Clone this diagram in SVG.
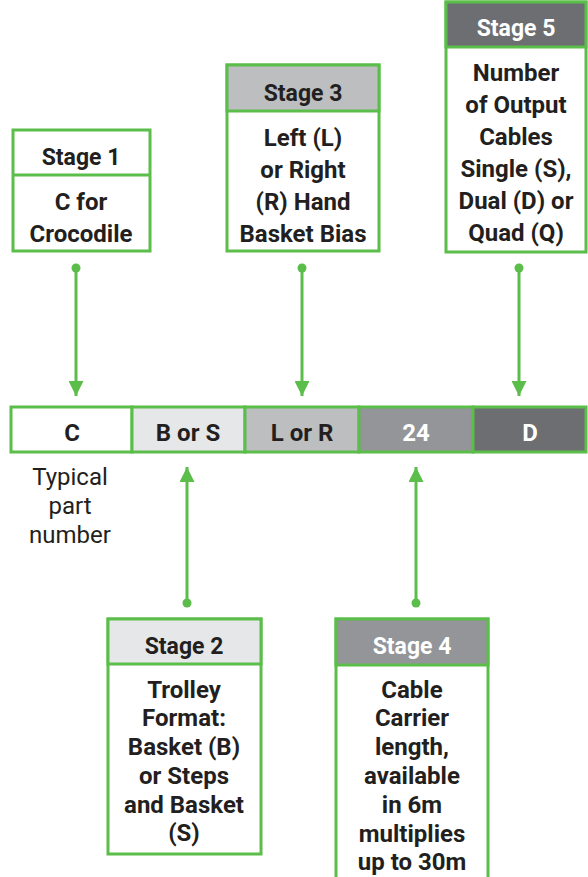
<svg xmlns="http://www.w3.org/2000/svg" width="588" height="877" viewBox="0 0 588 877">
<defs>
<marker id="ah" viewBox="0 0 10 10" refX="10" refY="5" markerWidth="5" markerHeight="5" orient="auto" markerUnits="strokeWidth">
<path d="M0,0 L10,5 L0,10 Z" fill="#5bbd4a"/>
</marker>
<style>
.box{fill:#fff;stroke:#5bbd4a;stroke-width:3}
.hd{stroke:#5bbd4a;stroke-width:3}
.t{font-family:Roboto,"Liberation Sans",sans-serif;font-weight:bold;font-size:24px;fill:#231f20;text-anchor:middle}
.h{font-size:23px}
.w{fill:#fff}
.n{font-family:Roboto,"Liberation Sans",sans-serif;font-size:24px;fill:#231f20;text-anchor:middle}
.c{stroke:#5bbd4a;stroke-width:3;fill:none}
.dot{fill:#5bbd4a}
</style>
</defs>
<g id="bar">
<rect x="11" y="407" width="121" height="45" fill="#fff" class="hd"/>
<rect x="132" y="407" width="113" height="45" fill="#e6e7e8" class="hd"/>
<rect x="245" y="407" width="114" height="45" fill="#bcbec0" class="hd"/>
<rect x="359" y="407" width="114" height="45" fill="#939598" class="hd"/>
<rect x="473" y="407" width="113" height="45" fill="#6d6e71" class="hd"/>
<text class="t" x="72" y="441">C</text>
<text class="t" x="188" y="441">B or S</text>
<text class="t" x="302" y="441">L or R</text>
<text class="t w" x="416" y="441">24</text>
<text class="t w" x="530" y="441">D</text>
</g>
<g id="label">
<text class="n" x="70" y="485">Typical</text>
<text class="n" x="70" y="514">part</text>
<text class="n" x="70" y="543">number</text>
</g>
<g id="stage1">
<rect class="box" x="13" y="130" width="137" height="121"/>
<line class="hd" x1="13" y1="175" x2="150" y2="175"/>
<text class="t h" x="81" y="165">Stage 1</text>
<text class="t" x="81" y="210">C for</text>
<text class="t" x="81" y="242">Crocodile</text>
</g>
<g id="stage3">
<rect class="box" x="227" y="65" width="152" height="186"/>
<rect x="227" y="65" width="152" height="46" fill="#bcbec0" class="hd"/>
<text class="t h" x="303" y="101">Stage 3</text>
<text class="t" x="303" y="146">Left (L)</text>
<text class="t" x="303" y="178">or Right</text>
<text class="t" x="303" y="210">(R) Hand</text>
<text class="t" x="303" y="242">Basket Bias</text>
</g>
<g id="stage5">
<rect class="box" x="446" y="2" width="140" height="250"/>
<rect x="446" y="2" width="140" height="45" fill="#6d6e71" class="hd"/>
<text class="t h w" x="516" y="36">Stage 5</text>
<text class="t" x="516" y="81">Number</text>
<text class="t" x="516" y="113">of Output</text>
<text class="t" x="516" y="145">Cables</text>
<text class="t" x="516" y="177">Single (S),</text>
<text class="t" x="516" y="209">Dual (D) or</text>
<text class="t" x="516" y="241">Quad (Q)</text>
</g>
<g id="stage2">
<rect class="box" x="108" y="619" width="153" height="235"/>
<rect x="108" y="619" width="153" height="45" fill="#e6e7e8" class="hd"/>
<text class="t h" x="184" y="654">Stage 2</text>
<text class="t" x="184" y="698">Trolley</text>
<text class="t" x="184" y="726">Format:</text>
<text class="t" x="184" y="755">Basket (B)</text>
<text class="t" x="184" y="784">or Steps</text>
<text class="t" x="184" y="813">and Basket</text>
<text class="t" x="184" y="841">(S)</text>
</g>
<g id="stage4">
<rect class="box" x="336" y="619" width="152" height="270"/>
<rect x="336" y="619" width="152" height="46" fill="#939598" class="hd"/>
<text class="t h w" x="412" y="654">Stage 4</text>
<text class="t" x="412" y="698">Cable</text>
<text class="t" x="412" y="726">Carrier</text>
<text class="t" x="412" y="755">length,</text>
<text class="t" x="412" y="784">available</text>
<text class="t" x="412" y="813">in 6m</text>
<text class="t" x="412" y="842">multiplies</text>
<text class="t" x="412" y="870">up to 30m</text>
</g>
<g id="connectors">
<circle class="dot" cx="76" cy="268" r="4.5"/>
<line class="c" x1="76" y1="268" x2="76" y2="396" marker-end="url(#ah)"/>
<circle class="dot" cx="302" cy="268" r="4.5"/>
<line class="c" x1="302" y1="268" x2="302" y2="396" marker-end="url(#ah)"/>
<circle class="dot" cx="519" cy="268" r="4.5"/>
<line class="c" x1="519" y1="268" x2="519" y2="396" marker-end="url(#ah)"/>
<circle class="dot" cx="187" cy="603" r="4.5"/>
<line class="c" x1="187" y1="603" x2="187" y2="467" marker-end="url(#ah)"/>
<circle class="dot" cx="416" cy="603" r="4.5"/>
<line class="c" x1="416" y1="603" x2="416" y2="467" marker-end="url(#ah)"/>
</g>
</svg>
